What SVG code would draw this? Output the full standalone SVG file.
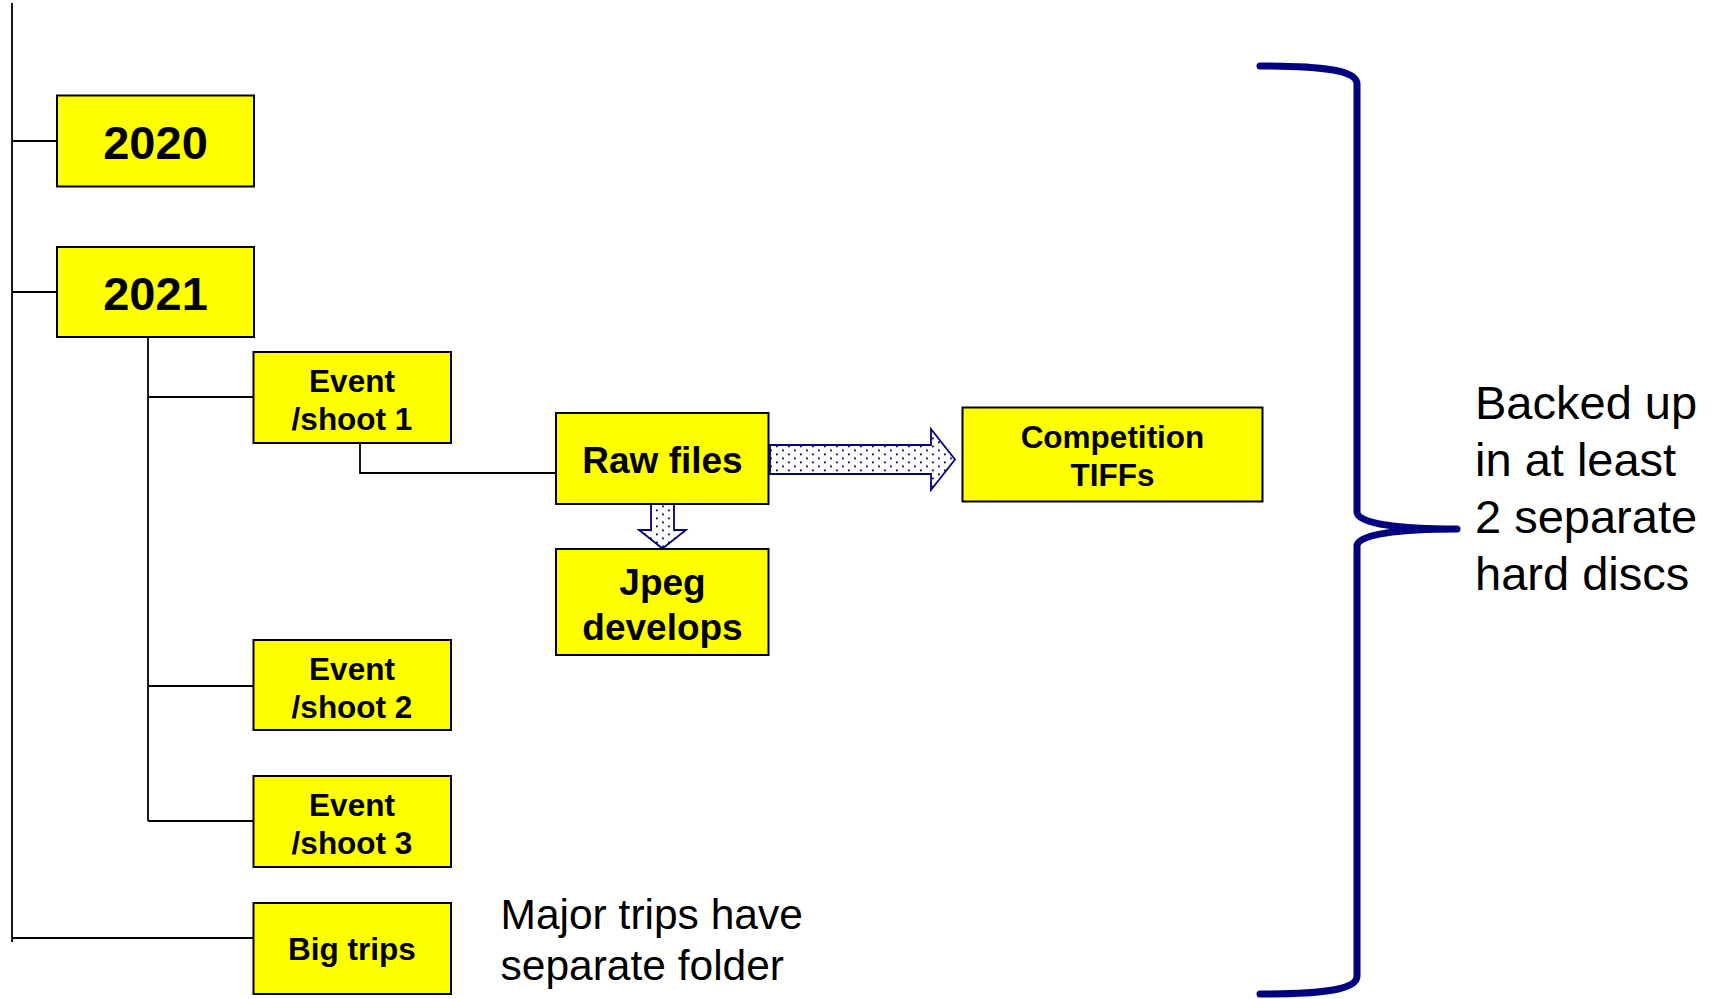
<svg xmlns="http://www.w3.org/2000/svg" width="1721" height="999" viewBox="0 0 1721 999">
<style>
.box{fill:#FFFF00;stroke:#000;stroke-width:2}
.lbl{font-family:"Liberation Sans",Arial,sans-serif;font-weight:bold;fill:#000;text-anchor:middle}
.plain{font-family:"Liberation Sans",Arial,sans-serif;fill:#000}
.ln{fill:none;stroke:#000;stroke-width:1.8}
.barrow{fill:url(#dots);stroke:#000080;stroke-width:1.8;stroke-linejoin:miter}
</style>
<defs>
<pattern id="dots" width="12" height="8" patternUnits="userSpaceOnUse">
<rect width="12" height="8" fill="#fff"/>
<rect x="2" y="1.5" width="1.8" height="1.8" fill="#000080"/>
<rect x="8" y="5.5" width="1.8" height="1.8" fill="#000080"/>
</pattern>
</defs>
<rect width="1721" height="999" fill="#fff"/>
<g id="connectors">
<path class="ln" d="M12,3 V942"/>
<path class="ln" d="M12,141 H57"/>
<path class="ln" d="M12,292 H57"/>
<path class="ln" d="M12,938 H253.5"/>
<path class="ln" d="M148,337 V821"/>
<path class="ln" d="M148,397 H253.5"/>
<path class="ln" d="M148,686 H253.5"/>
<path class="ln" d="M148,821 H253.5"/>
<path class="ln" d="M360,443 V473 H556"/>
<polygon class="barrow" points="770,445 931,445 931,429 955,459.5 931,490 931,474 770,474"/>
<polygon class="barrow" points="651,504 674,504 674,530 686,530 662.5,548.5 639,530 651,530"/>
</g>
<g id="n2020">
<rect class="box" x="57" y="95.5" width="197" height="91"/>
<text class="lbl" x="155.5" y="159" font-size="47">2020</text>
</g>
<g id="n2021">
<rect class="box" x="57" y="247" width="197" height="90"/>
<text class="lbl" x="155.5" y="310" font-size="47">2021</text>
</g>
<g id="event1">
<rect class="box" x="253.5" y="352" width="197.5" height="91"/>
<text class="lbl" x="352" y="392" font-size="31.5">Event</text>
<text class="lbl" x="352" y="429.5" font-size="31.5">/shoot 1</text>
</g>
<g id="event2">
<rect class="box" x="253.5" y="640" width="197.5" height="90"/>
<text class="lbl" x="352" y="680" font-size="31.5">Event</text>
<text class="lbl" x="352" y="717.5" font-size="31.5">/shoot 2</text>
</g>
<g id="event3">
<rect class="box" x="253.5" y="776" width="197.5" height="91"/>
<text class="lbl" x="352" y="816" font-size="31.5">Event</text>
<text class="lbl" x="352" y="853.5" font-size="31.5">/shoot 3</text>
</g>
<g id="bigtrips">
<rect class="box" x="253.5" y="903" width="197.5" height="91"/>
<text class="lbl" x="352" y="960" font-size="31.5">Big trips</text>
</g>
<g id="raw">
<rect class="box" x="556" y="413" width="212.5" height="91"/>
<text class="lbl" x="662.5" y="472.5" font-size="37">Raw files</text>
</g>
<g id="jpeg">
<rect class="box" x="556" y="549" width="212.5" height="106"/>
<text class="lbl" x="662.5" y="595" font-size="37">Jpeg</text>
<text class="lbl" x="662.5" y="640" font-size="37">develops</text>
</g>
<g id="competition">
<rect class="box" x="962.5" y="407.5" width="300" height="94"/>
<text class="lbl" x="1112.5" y="448" font-size="31.5">Competition</text>
<text class="lbl" x="1112.5" y="486" font-size="31.5">TIFFs</text>
</g>
<g id="note-trips">
<text class="plain" x="500.5" y="928.5" font-size="42.5">Major trips have</text>
<text class="plain" x="500.5" y="980" font-size="42.5">separate folder</text>
</g>
<g id="brace">
<path d="M1260,66 C1322,66 1357,70 1357,84 L1357,512 C1357,524 1400,529 1457,529 C1400,529 1357,534 1357,546 L1357,976 C1357,990 1322,994 1260,994" fill="none" stroke="#000080" stroke-width="7" stroke-linecap="round" stroke-linejoin="round"/>
</g>
<g id="note-backup">
<text class="plain" x="1475" y="419" font-size="47">Backed up</text>
<text class="plain" x="1475" y="476" font-size="47">in at least</text>
<text class="plain" x="1475" y="533" font-size="47">2 separate</text>
<text class="plain" x="1475" y="590" font-size="47">hard discs</text>
</g>
</svg>
